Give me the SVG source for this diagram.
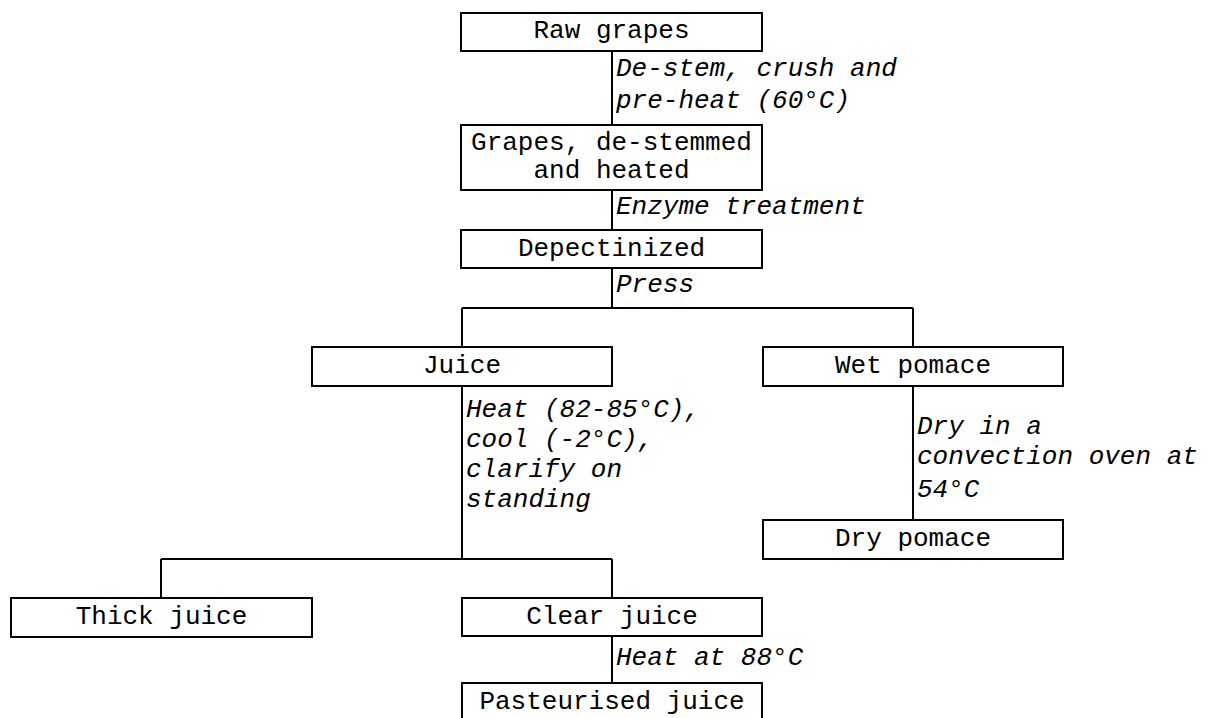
<svg xmlns="http://www.w3.org/2000/svg" width="1206" height="718" viewBox="0 0 1206 718">
<style>
.box{fill:#fff;stroke:#000;stroke-width:2}
.t{font-family:"Liberation Mono","Courier New",monospace;font-size:26px;fill:#000;text-anchor:middle}
.l{font-family:"Liberation Mono","Courier New",monospace;font-size:26px;font-style:italic;fill:#000}
.c{fill:none;stroke:#000;stroke-width:2}
</style>
<rect width="1206" height="718" fill="#fff"/>
<g id="connectors">
<path class="c" d="M612 51V125"/>
<path class="c" d="M612 190V230"/>
<path class="c" d="M612 268V308M462 308H913M462 308V347M913 308V347"/>
<path class="c" d="M462 386V559M161 559H612M161 559V598M612 559V598"/>
<path class="c" d="M913 386V520"/>
<path class="c" d="M612 636V683"/>
<text class="l" x="616" y="76">De-stem, crush and</text>
<text class="l" x="616" y="108">pre-heat (60°C)</text>
<text class="l" x="616" y="214">Enzyme treatment</text>
<text class="l" x="616" y="292">Press</text>
<text class="l" x="466" y="417">Heat (82-85°C),</text>
<text class="l" x="466" y="447">cool (-2°C),</text>
<text class="l" x="466" y="477">clarify on</text>
<text class="l" x="466" y="507">standing</text>
<text class="l" x="917" y="434">Dry in a</text>
<text class="l" x="917" y="464">convection oven at</text>
<text class="l" x="917" y="497">54°C</text>
<text class="l" x="616" y="665">Heat at 88°C</text>
</g>
<g id="raw"><rect class="box" x="461" y="13" width="301" height="38"/><text class="t" x="611.5" y="38">Raw grapes</text></g>
<g id="grapes"><rect class="box" x="461" y="125" width="301" height="65"/><text class="t" x="611.5" y="150">Grapes, de-stemmed</text><text class="t" x="611.5" y="178">and heated</text></g>
<g id="depect"><rect class="box" x="461" y="230" width="301" height="38"/><text class="t" x="611.5" y="256">Depectinized</text></g>
<g id="juice"><rect class="box" x="312" y="347" width="300" height="39"/><text class="t" x="462" y="373">Juice</text></g>
<g id="wet"><rect class="box" x="763" y="347" width="300" height="39"/><text class="t" x="913" y="373">Wet pomace</text></g>
<g id="dry"><rect class="box" x="763" y="520" width="300" height="39"/><text class="t" x="913" y="546">Dry pomace</text></g>
<g id="thick"><rect class="box" x="11" y="598" width="301" height="39"/><text class="t" x="161.5" y="624">Thick juice</text></g>
<g id="clear"><rect class="box" x="462" y="598" width="300" height="38"/><text class="t" x="612" y="624">Clear juice</text></g>
<g id="past"><rect class="box" x="462" y="683" width="300" height="40"/><text class="t" x="612" y="709">Pasteurised juice</text></g>
</svg>
